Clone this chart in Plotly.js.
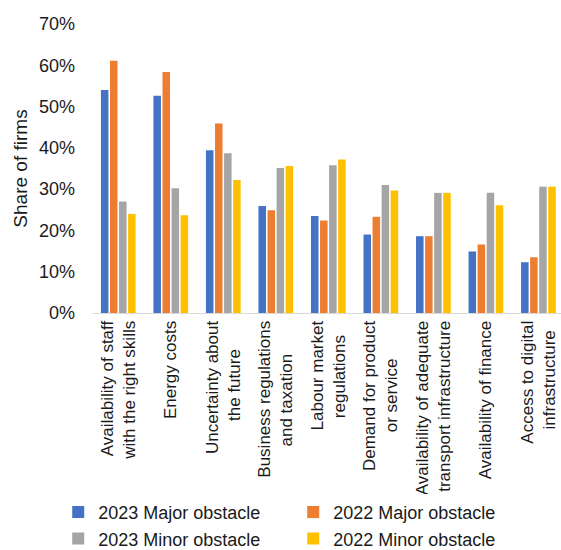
<!DOCTYPE html>
<html>
<head>
<meta charset="utf-8">
<script src="https://cdn.plot.ly/plotly-3.0.1.min.js"></script>
<style>html,body{margin:0;padding:0;background:#fff;}#chart{width:561px;height:550px;}</style>
</head>
<body>
<div id="chart"></div>
<script>
const categories = [
  "Availability of staff<br>with the right skills",
  "Energy costs",
  "Uncertainty about<br>the future",
  "Business regulations<br>and taxation",
  "Labour market<br>regulations",
  "Demand for product<br>or service",
  "Availability of adequate<br>transport infrastructure",
  "Availability of finance",
  "Access to digital<br>infrastructure"
];
const major2023 = [0.540, 0.526, 0.394, 0.259, 0.235, 0.190, 0.186, 0.149, 0.123];
const major2022 = [0.611, 0.584, 0.459, 0.249, 0.224, 0.233, 0.186, 0.166, 0.135];
const minor2023 = [0.270, 0.302, 0.387, 0.351, 0.358, 0.310, 0.291, 0.291, 0.306];
const minor2022 = [0.240, 0.237, 0.322, 0.356, 0.372, 0.297, 0.291, 0.261, 0.306];
const seriesNames = ["2023 Major obstacle", "2022 Major obstacle", "2023 Minor obstacle", "2022 Minor obstacle"];
const seriesColors = ["#4472C4", "#ED7D31", "#A5A5A5", "#FFC000"];
const yTickVals = [0, 0.1, 0.2, 0.3, 0.4, 0.5, 0.6, 0.7];
const yTickText = ["0%", "10%", "20%", "30%", "40%", "50%", "60%", "70%"];

// visual centring of the second line of each rotated label (style only)
const secondLinePad = [0, 0, 6, 7, 3, 8, 0, 0, 2];
const tickLabels = categories.map((c, i) => {
  const parts = c.split("<br>");
  if (parts.length < 2) return c;
  return parts[0] + "<br>" + parts[1] + "\u00A0".repeat(secondLinePad[i]);
});

const seriesValues = [major2023, major2022, minor2023, minor2022];
const idx = categories.map((c, i) => i);
const traces = seriesValues.map((vals, k) => ({
  type: "bar",
  name: seriesNames[k],
  x: idx,
  y: vals,
  marker: {color: seriesColors[k], line: {width: 0}},
  hoverinfo: "none"
}));

const font = "Liberation Sans, Arial, sans-serif";
const layout = {
  width: 561,
  height: 550,
  margin: {l: 92, r: 0, t: 24, b: 237, autoexpand: false},
  paper_bgcolor: "#ffffff",
  plot_bgcolor: "#ffffff",
  barmode: "group",
  bargap: 0.31,
  bargroupgap: 0.17,
  showlegend: true,
  font: {family: font, color: "#1a1a1a", size: 17},
  xaxis: {
    tickmode: "array",
    tickvals: idx,
    ticktext: tickLabels,
    tickangle: -90,
    range: [-0.5, 8.43],
    showgrid: false,
    zeroline: false,
    showline: true,
    linecolor: "#d9d9d9",
    linewidth: 1,
    ticks: "",
    tickfont: {family: font, size: 17, color: "#1a1a1a"},
    automargin: false
  },
  yaxis: {
    range: [0, 0.7],
    tickmode: "array",
    tickvals: yTickVals,
    ticktext: yTickText,
    showgrid: false,
    zeroline: false,
    showline: false,
    ticks: "",
    ticklabelstandoff: 16,
    tickfont: {family: font, size: 18, color: "#1a1a1a"},
    title: {text: "Share of firms", font: {family: font, size: 19, color: "#1a1a1a"}, standoff: 6},
    automargin: false
  },
  legend: {
    orientation: "h",
    xref: "paper",
    yref: "paper",
    x: -0.072,
    y: -0.626,
    xanchor: "left",
    yanchor: "top",
    entrywidth: 190,
    entrywidthmode: "pixels",
    traceorder: "normal",
    font: {family: font, size: 18, color: "#1a1a1a"},
    itemwidth: 30,
    tracegroupgap: 0
  }
};

Plotly.newPlot("chart", traces, layout, {displayModeBar: false, staticPlot: true});
</script>
</body>
</html>
